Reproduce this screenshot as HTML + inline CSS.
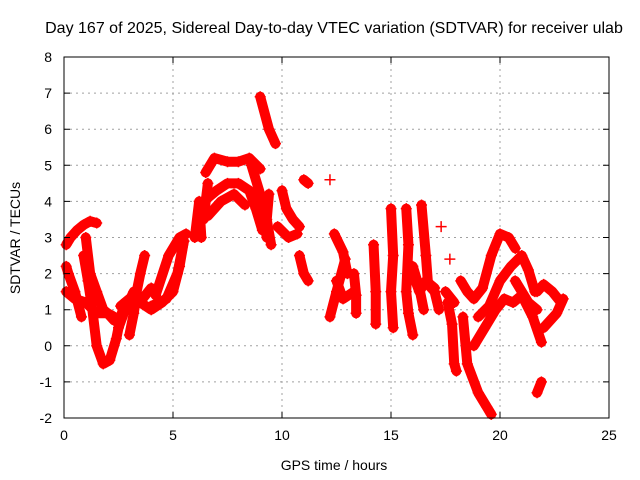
<!DOCTYPE html>
<html><head><meta charset="utf-8"><style>
body{margin:0;background:#fff;}
svg{display:block;font-family:"Liberation Sans",sans-serif;}
</style></head><body>
<svg id="chart" width="640" height="480" viewBox="0 0 640 480">
<rect width="640" height="480" fill="#fff"/>
<text x="334" y="33" font-size="16" text-anchor="middle">Day 167 of 2025, Sidereal Day-to-day VTEC variation (SDTVAR) for receiver ulab</text>
<text x="334" y="470" font-size="14" text-anchor="middle">GPS time / hours</text>
<text transform="translate(20,238) rotate(-90)" font-size="14" text-anchor="middle">SDTVAR / TECUs</text>
<g id="grid"></g>
<g id="marks"></g>
<rect x="64" y="57" width="545" height="361" fill="none" stroke="#000" stroke-width="1"/>
<g id="ticks"></g>
</svg>
<script>
const xTicks=[0,5,10,15,20,25];
const yTicks=[-2,-1,0,1,2,3,4,5,6,7,8];
const trackTimes=[
[0.1,0.3,0.6,0.9,1.2,1.5],
[0.9,1.1,1.3,1.5,1.8,2.1,2.4,2.6,2.8],
[0.1,0.5,1.0,1.5,2.0,2.3],
[0.1,0.2,0.5,0.8],
[1.0,1.2,1.5,1.8,2.0,2.3],
[2.6,3.0,3.5,4.0,4.5,5.0,5.3,5.5],
[3.3,3.5,3.7],
[4.2,4.8,5.3,5.6],
[4.0,4.7,5.2,5.5],
[3.0,3.2,3.3],
[2.5,2.8,3.2,3.6,4.0],
[6.0,6.2,6.3],
[6.5,6.9,7.5,8.0,8.5,9.0],
[6.4,7.0,7.5,8.0,8.5,8.8,9.1],
[6.6,7.2,7.8,8.3],
[6.4,6.5,6.6],
[8.6,9.0,9.3],
[9.0,9.4,9.7],
[9.4,9.3,9.5],
[10.0,10.2,10.5,10.8],
[9.8,10.3,10.7],
[10.8,11.0,11.2],
[11.0,11.2],
[12.2],
[12.2,12.5,12.9],
[12.4,12.8,13.0],
[12.5,12.8,13.3],
[13.3,13.4,13.4],
[14.2,14.3,14.3],
[15.0,15.1,15.0,15.1],
[15.7,15.8,15.7,15.8,16.0],
[16.4,16.6,16.7,17.0,17.2],
[16.0,16.3,16.5],
[16.0,16.3,16.6,17.0],
[17.6,17.8,17.9,18.0],
[17.5,17.9],
[17.3],
[17.7],
[18.2,18.5,18.8,19.2,19.6,20.0,20.4,20.7],
[18.3,18.5,19.0,19.4,19.6],
[18.8,19.3,19.8,20.2,20.6,21.0,21.5,21.9],
[19.0,19.5,20.0,20.5,21.0,21.3,21.6],
[20.7,21.3,21.7],
[21.7,22.0,22.4,22.8],
[22.0,22.6,22.9],
[21.7,21.9]
];
const trackValues=[
[2.8,3.0,3.2,3.35,3.45,3.4],
[2.5,1.8,1.0,0.0,-0.5,-0.4,0.2,0.8,1.2],
[1.5,1.3,1.2,0.9,0.9,0.8],
[2.2,2.0,1.5,0.8],
[3.0,2.0,1.5,1.0,0.9,0.7],
[1.1,1.3,1.2,1.0,1.2,1.5,2.2,2.9],
[1.4,2.0,2.5],
[1.4,2.5,3.0,3.1],
[1.1,1.3,2.0,2.9],
[0.3,0.9,1.3],
[0.5,1.0,1.5,1.3,1.6],
[3.0,4.0,3.0],
[4.8,5.2,5.1,5.1,5.2,4.9],
[4.0,4.3,4.5,4.5,4.3,3.8,3.2],
[3.6,4.0,4.2,3.9],
[3.5,4.0,4.5],
[5.0,4.2,3.0],
[6.9,6.0,5.6],
[4.2,3.5,2.8],
[4.3,3.8,3.5,3.3],
[3.3,3.0,3.1],
[2.5,2.0,1.8],
[4.6,4.5],
[4.6],
[0.8,1.5,2.4],
[3.1,2.6,2.0],
[1.8,1.3,1.5],
[2.0,1.4,0.9],
[2.8,1.5,0.6],
[3.8,2.5,1.5,0.5],
[3.8,2.8,1.5,0.9,0.3],
[3.9,2.5,1.7,1.5,1.0],
[2.2,1.6,1.0],
[2.0,1.5,1.8,1.6],
[1.2,0.6,-0.5,-0.7],
[1.5,1.2],
[3.3],
[2.4],
[1.8,1.5,1.3,1.6,2.5,3.1,3.0,2.7],
[0.8,-0.5,-1.3,-1.7,-1.9],
[0.0,0.5,1.0,1.3,1.2,1.4,0.8,0.1],
[0.8,1.1,1.8,2.2,2.5,2.1,1.5],
[1.8,1.2,1.0],
[1.5,1.7,1.5,1.2],
[0.5,0.9,1.3],
[-1.3,-1.0]
];
const NS='http://www.w3.org/2000/svg';
const X0=64,X1=609,Y0=418,Y1=57;
function xs(t){return X0+(t-0)/(25-0)*(X1-X0);}
function ys(v){return Y0-(v-(-2))/(8-(-2))*(Y0-Y1);}
const grid=document.getElementById('grid'),ticks=document.getElementById('ticks'),marks=document.getElementById('marks');
xTicks.forEach(t=>{
  const x=xs(t);
  if(t>0&&t<25){const g=document.createElementNS(NS,'line');
  
  
  g.setAttribute('x1',x);g.setAttribute('x2',x);g.setAttribute('y1',Y1);g.setAttribute('y2',Y0);
  g.setAttribute('stroke','#a0a0a0');g.setAttribute('stroke-dasharray','2,4');grid.appendChild(g);}
  const tk=document.createElementNS(NS,'path');
  
  
  tk.setAttribute('d',`M${x},${Y0}v-6M${x},${Y1}v6`);tk.setAttribute('stroke','#000');ticks.appendChild(tk);
  const tx=document.createElementNS(NS,'text');
  
  
  tx.setAttribute('x',x);tx.setAttribute('y',Y0+22);tx.setAttribute('font-size','14');tx.setAttribute('text-anchor','middle');
  tx.textContent=t;ticks.appendChild(tx);
});
yTicks.forEach(v=>{
  const y=ys(v);
  if(v>-2&&v<8){const g=document.createElementNS(NS,'line');
  
  
  g.setAttribute('x1',X0);g.setAttribute('x2',X1);g.setAttribute('y1',y);g.setAttribute('y2',y);
  g.setAttribute('stroke','#a0a0a0');g.setAttribute('stroke-dasharray','2,4');grid.appendChild(g);}
  const tk=document.createElementNS(NS,'path');
  
  
  tk.setAttribute('d',`M${X0},${y}h6M${X1},${y}h-6`);tk.setAttribute('stroke','#000');ticks.appendChild(tk);
  const tx=document.createElementNS(NS,'text');
  
  
  tx.setAttribute('x',X0-12);tx.setAttribute('y',y+5);tx.setAttribute('font-size','14');tx.setAttribute('text-anchor','end');
  tx.textContent=v;ticks.appendChild(tx);
});
trackTimes.forEach((ts,i)=>{
  const vs=trackValues[i];
  const pts=ts.map((t,j)=>xs(t)+','+ys(vs[j])).join(' ');
  if(ts.length>1){const pl=document.createElementNS(NS,'polyline');
  
  
  pl.setAttribute('points',pts);pl.setAttribute('fill','none');pl.setAttribute('stroke','#ff0000');
  pl.setAttribute('stroke-width','10');pl.setAttribute('stroke-linejoin','round');pl.setAttribute('stroke-linecap','round');
  marks.appendChild(pl);}
  ts.forEach((t,j)=>{
    const x=xs(t),y=ys(vs[j]);
    const p=document.createElementNS(NS,'path');
    
    
    p.setAttribute('d',`M${x-5.5},${y}h11M${x},${y-5.5}v11`);p.setAttribute('stroke','#ff0000');p.setAttribute('stroke-width','1.5');
    marks.appendChild(p);
  });
});
</script>
</body></html>
